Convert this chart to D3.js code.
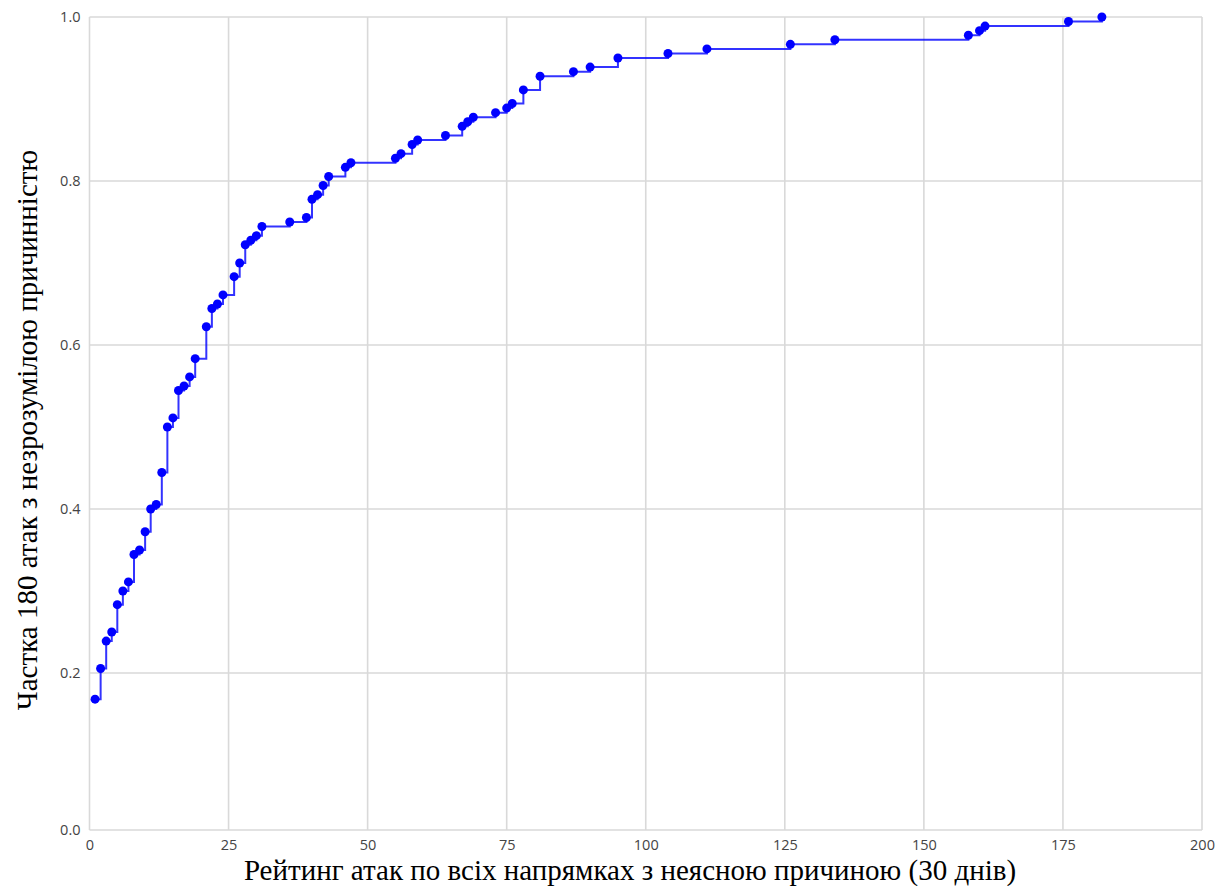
<!DOCTYPE html>
<html>
<head>
<meta charset="utf-8">
<script src="https://cdn.jsdelivr.net/npm/d3@7/dist/d3.min.js"></script>
<style>
  html, body { margin: 0; padding: 0; background: #fff; }
  svg { display: block; }
</style>
</head>
<body>
<svg id="chart" width="1229" height="886"></svg>
<script>
// Rank of each attack (30-day window) and the cumulative share of the 180 attacks
const ranks = [1, 2, 3, 4, 5, 6, 7, 8, 9, 10, 11, 12, 13, 14, 15, 16, 17, 18, 19,
  21, 22, 23, 24, 26, 27, 28, 29, 30, 31, 36, 39, 40, 41, 42, 43, 46, 47,
  55, 56, 58, 59, 64, 67, 68, 69, 73, 75, 76, 78, 81, 87, 90, 95, 104, 111,
  126, 134, 158, 160, 161, 176, 182];
const cumulativeCounts = [30, 37, 43, 45, 51, 54, 56, 62, 63, 67, 72, 73, 80, 90, 92, 98, 99, 101, 105,
  112, 116, 117, 119, 123, 126, 130, 131, 132, 134, 135, 136, 140, 141, 143, 145, 147, 148,
  149, 150, 152, 153, 154, 156, 157, 158, 159, 160, 161, 164, 167, 168, 169, 171, 172, 173,
  174, 175, 176, 177, 178, 179, 180];
const totalAttacks = 180;
const shares = cumulativeCounts.map(c => c / totalAttacks);

const xTicks = [0, 25, 50, 75, 100, 125, 150, 175, 200];
const yTicks = [0, 0.2, 0.4, 0.6, 0.8, 1.0];

const xTitle = "Рейтинг атак по всіх напрямках з неясною причиною (30 днів)";
const yTitle = "Частка 180 атак з незрозумілою причинністю";

const points = ranks.map((r, i) => ({ x: r, y: shares[i] }));

const svg = d3.select("#chart");
const plotLeft = 89.5, plotRight = 1202, plotTop = 17, plotBottom = 830;

const x = d3.scaleLinear().domain([0, 200]).range([plotLeft, plotRight]);
const y = d3.scaleLinear().domain([0, 0.2, 1]).range([plotBottom, 673, plotTop]);

// grid
const grid = svg.append("g").attr("stroke", "#d9d9d9").attr("stroke-width", 1.6);
grid.selectAll("line.v").data(xTicks).join("line").attr("class", "v")
  .attr("x1", d => x(d)).attr("x2", d => x(d))
  .attr("y1", plotTop).attr("y2", plotBottom);
grid.selectAll("line.h").data(yTicks).join("line").attr("class", "h")
  .attr("x1", plotLeft).attr("x2", plotRight)
  .attr("y1", d => y(d)).attr("y2", d => y(d));

// axes (labels only, grid draws the lines)
const xAxis = d3.axisBottom(x).tickValues(xTicks).tickSize(0).tickPadding(10)
  .tickFormat(d3.format("d"));
const gx = svg.append("g").attr("transform", `translate(0,${plotBottom})`).call(xAxis);
const yAxis = d3.axisLeft(y).tickValues(yTicks).tickSize(0).tickPadding(9)
  .tickFormat(d3.format(".1f"));
const gy = svg.append("g").attr("transform", `translate(${plotLeft},0)`).call(yAxis);
[gx, gy].forEach(g => {
  g.select(".domain").remove();
  g.selectAll("text")
    .attr("font-family", "'Open Sans', 'DejaVu Sans', sans-serif")
    .attr("font-size", 14.5)
    .attr("fill", "#444");
});

// step line
const line = d3.line().x(d => x(d.x)).y(d => y(d.y)).curve(d3.curveStepAfter);
svg.append("path").datum(points)
  .attr("d", line)
  .attr("fill", "none")
  .attr("stroke", "#0000ff")
  .attr("stroke-opacity", 0.8)
  .attr("stroke-width", 2);

// markers
svg.append("g").selectAll("circle").data(points).join("circle")
  .attr("cx", d => x(d.x)).attr("cy", d => y(d.y))
  .attr("r", 4.5)
  .attr("fill", "#0000ff");

// titles
svg.append("text")
  .attr("x", 630).attr("y", 880)
  .attr("text-anchor", "middle")
  .attr("font-family", "'Liberation Serif', 'Times New Roman', serif")
  .attr("font-size", 29)
  .attr("fill", "#000")
  .text(xTitle);

svg.append("text")
  .attr("transform", "translate(37,430) rotate(-90)")
  .attr("text-anchor", "middle")
  .attr("font-family", "'Liberation Serif', 'Times New Roman', serif")
  .attr("font-size", 29)
  .attr("fill", "#000")
  .text(yTitle);
</script>
</body>
</html>
